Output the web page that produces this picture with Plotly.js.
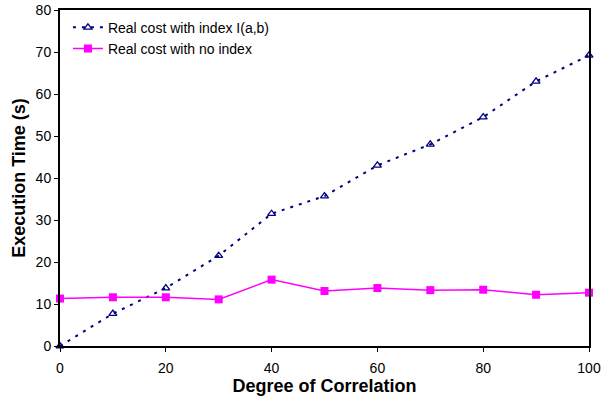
<!DOCTYPE html>
<html><head><meta charset="utf-8">
<script src="https://cdn.plot.ly/plotly-3.0.1.min.js"></script>
<style>body{margin:0;background:#fff}#c{width:610px;height:401px}</style>
</head><body><div id="c"></div>
<script>
const xCorr = [0,10,20,30,40,50,60,70,80,90,100];
const costIndex = [0,7.7,13.8,21.5,31.5,35.7,43,48,54.5,63,69.2];
const costNoIndex = [11.3,11.6,11.6,11.1,15.8,13.1,13.8,13.3,13.4,12.2,12.7];
const seriesNames = ['Real cost with index I(a,b)','Real cost with no index'];

const traces = [
 {x:xCorr,y:costIndex,name:seriesNames[0],mode:'lines+markers',
  line:{color:'#000080',width:2,dash:'3px,6px'},
  marker:{symbol:'triangle-up-open',size:7,color:'#000080',line:{width:1.3,color:'#000080'}},cliponaxis:false},
 {x:xCorr,y:costNoIndex,name:seriesNames[1],mode:'lines+markers',
  line:{color:'#FF00FF',width:1.5},
  marker:{symbol:'square',size:8,color:'#FF00FF'},cliponaxis:false}
];
const layout = {
 width:610,height:401,
 margin:{l:60,r:21,t:10,b:55},
 paper_bgcolor:'#fff',plot_bgcolor:'#fff',
 font:{family:'Liberation Sans, Arial, sans-serif',size:14,color:'#000'},
 showlegend:true,
 legend:{x:0.015,y:0.995,xanchor:'left',yanchor:'top',bgcolor:'rgba(0,0,0,0)',font:{size:14},tracegroupgap:0,itemwidth:30},
 xaxis:{range:[0,100],tickvals:[0,20,40,60,80,100],ticks:'outside',ticklen:4,tickcolor:'#000',
   showgrid:false,zeroline:false,showline:true,linecolor:'#000',linewidth:2,mirror:true,
   ticklabelstandoff:4,tickfont:{size:14},
   title:{text:'<b>Degree of Correlation</b>',font:{size:18},standoff:3}},
 yaxis:{range:[0,80],tickvals:[0,10,20,30,40,50,60,70,80],ticks:'outside',ticklen:4,tickcolor:'#000',
   showgrid:false,zeroline:false,showline:true,linecolor:'#000',linewidth:2,mirror:true,
   tickfont:{size:14},
   title:{text:'<b>Execution Time (s)</b>',font:{size:18},standoff:5}}
};
Plotly.newPlot('c',traces,layout,{displayModeBar:false});
</script></body></html>
